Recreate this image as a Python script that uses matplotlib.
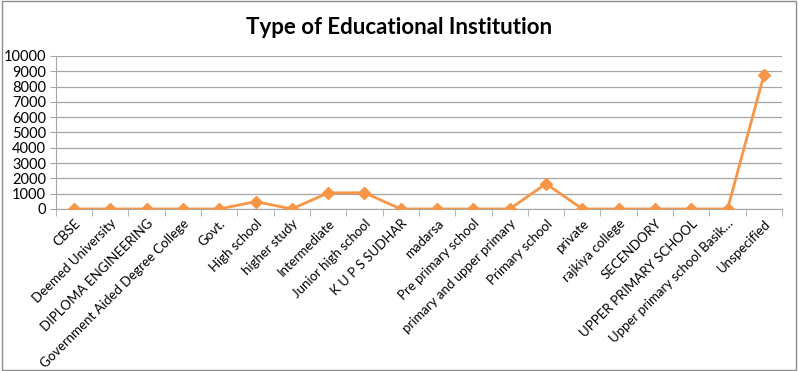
import matplotlib
matplotlib.use("Agg")
import matplotlib.pyplot as plt
from matplotlib.patches import Rectangle
import numpy as np

categories = ["CBSE", "Deemed University", "DIPLOMA ENGINEERING", "Government Aided Degree College",
              "Govt.", "High school", "higher study", "Intermediate", "Junior high school",
              "K U P S SUDHAR", "madarsa", "Pre primary school", "primary and upper primary",
              "Primary school", "private", "rajkiya college", "SECENDORY", "UPPER PRIMARY SCHOOL",
              "Upper primary school Basik…", "Unspecified"]
values = [2, 1, 1, 1, 3, 480, 5, 1050, 1060, 1, 2, 1, 3, 1650, 3, 1, 1, 2, 1, 8750]
yticks = list(range(0, 10001, 1000))

plt.rcParams['font.family'] = ['Lato', 'DejaVu Sans']

fig = plt.figure(figsize=(7.98, 3.71), dpi=100)
ax = fig.add_axes([0.070, 0.4367, 0.910, 0.4124])

x = np.arange(len(categories))
ax.plot(x, values, color='#F79646', lw=2, marker='D', markersize=6.5, zorder=3)

ax.set_xlim(-0.5, len(categories) - 0.5)
ax.set_ylim(0, 10000)
ax.set_yticks(yticks)
ax.set_yticklabels([str(v) for v in yticks], fontsize=10.5)
ax.yaxis.grid(True, color='#A6A6A6', lw=0.9)
ax.set_axisbelow(True)

ax.set_xticks(x)
ax.set_xticklabels(categories, rotation=45, ha='right', rotation_mode='anchor', fontsize=9.5)
ax.tick_params(axis='x', which='major', length=0, pad=6)
ax.set_xticks(np.arange(-0.5, len(categories), 1), minor=True)
ax.tick_params(axis='x', which='minor', length=5, color='#A6A6A6')
ax.tick_params(axis='y', length=4, color='#A6A6A6', pad=3)

for s in ['top', 'right']:
    ax.spines[s].set_visible(False)
for s in ['left', 'bottom']:
    ax.spines[s].set_color('#A6A6A6')

fig.text(0.5, 0.925, "Type of Educational Institution", ha='center', va='center',
         fontsize=16, fontweight='bold')

fig.patches.append(Rectangle((0.002, 0.003), 0.996, 0.994, transform=fig.transFigure,
                             fill=False, edgecolor='#8C8C8C', lw=1))

fig.savefig("out.png", dpi=100)
